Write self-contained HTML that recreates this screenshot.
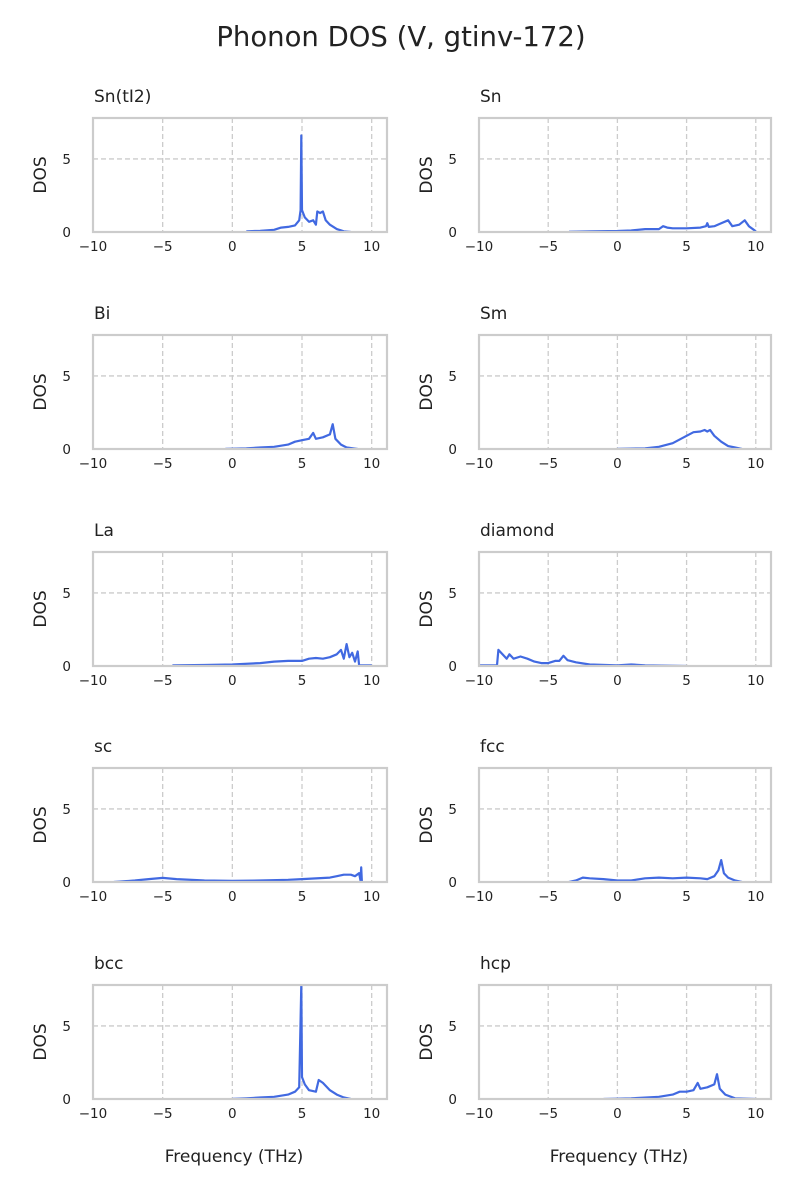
<!DOCTYPE html>
<html><head><meta charset="utf-8"><style>
body{margin:0;background:#fff;}
svg{display:block;font-family:"DejaVu Sans","Liberation Sans",sans-serif;}
</style></head><body>
<svg id="fig" width="800" height="1200">
<text x="401" y="46" text-anchor="middle" font-size="27.5" fill="#222">Phonon DOS (V, gtinv-172)</text>
</svg>
<script>
const panelNames = ["Sn(tI2)","Sn","Bi","Sm","La","diamond","sc","fcc","bcc","hcp"];
const fSnTI2 = [1,2,3,3.5,4,4.5,4.8,4.9,4.95,5.0,5.2,5.5,5.8,6.0,6.1,6.3,6.5,6.7,7,7.5,8,8.5];
const dSnTI2 = [0.05,0.08,0.15,0.3,0.35,0.45,0.8,1.5,6.6,1.5,1.0,0.7,0.8,0.5,1.4,1.3,1.4,0.8,0.5,0.2,0.05,0];
const fSn = [-3.5,-2,0,1,2,3,3.3,3.6,4,5,6,6.4,6.5,6.6,7,7.5,8,8.3,8.8,9.2,9.5,10];
const dSn = [0.02,0.05,0.07,0.1,0.2,0.2,0.4,0.3,0.25,0.25,0.3,0.4,0.6,0.35,0.4,0.6,0.8,0.4,0.5,0.8,0.4,0.05];
const fBi = [-0.5,1,2,3,4,4.5,5,5.5,5.8,6,6.5,7,7.2,7.4,7.8,8.2,9];
const dBi = [0.01,0.05,0.1,0.15,0.3,0.5,0.6,0.7,1.1,0.7,0.8,1.0,1.7,0.7,0.3,0.1,0];
const fSm = [0,2,3,4,5,5.5,6,6.3,6.5,6.7,7,7.5,8,8.5,9];
const dSm = [0.01,0.05,0.15,0.4,0.9,1.15,1.2,1.3,1.2,1.3,0.9,0.5,0.2,0.1,0];
const fLa = [-4.3,-2,0,2,3,4,5,5.5,6,6.5,7,7.5,7.8,8,8.2,8.4,8.6,8.8,9,9.1,10];
const dLa = [0.05,0.07,0.1,0.2,0.3,0.35,0.35,0.5,0.55,0.5,0.6,0.8,1.1,0.5,1.5,0.6,0.9,0.3,1.0,0.05,0.05];
const fDia = [-10,-8.7,-8.6,-8.3,-8.0,-7.8,-7.5,-7,-6.5,-6,-5.5,-5,-4.5,-4.2,-3.9,-3.6,-3,-2,0,1,2,5];
const dDia = [0.05,0.05,1.1,0.8,0.5,0.8,0.5,0.65,0.5,0.3,0.2,0.2,0.35,0.35,0.7,0.4,0.25,0.1,0.05,0.1,0.05,0];
const fSc = [-8.5,-7,-6,-5,-4,-2,0,2,4,5,7,7.5,8,8.5,8.8,9.1,9.2,9.25,9.3];
const dSc = [0,0.1,0.2,0.28,0.2,0.1,0.08,0.1,0.15,0.2,0.3,0.4,0.5,0.5,0.4,0.6,0.1,1.0,0];
const fFcc = [-3.5,-3,-2.5,-2,-1,0,1,2,3,4,5,6,6.5,7,7.3,7.5,7.7,8,8.5,9];
const dFcc = [0,0.1,0.3,0.25,0.2,0.1,0.1,0.25,0.3,0.25,0.3,0.25,0.2,0.4,0.8,1.5,0.6,0.3,0.1,0];
const fBcc = [0,1,2,3,4,4.5,4.8,4.95,5.0,5.2,5.5,6,6.2,6.5,7,7.5,8,8.5];
const dBcc = [0.01,0.05,0.1,0.15,0.3,0.5,0.8,7.8,1.5,1.0,0.6,0.5,1.3,1.1,0.6,0.3,0.1,0];
const fHcp = [-1,1,3,4,4.5,5,5.5,5.8,6,6.5,7,7.2,7.4,7.8,8.5,10];
const dHcp = [0,0.05,0.15,0.3,0.5,0.5,0.6,1.1,0.7,0.8,1.0,1.7,0.7,0.3,0.05,0];
const panelFreqs = [fSnTI2,fSn,fBi,fSm,fLa,fDia,fSc,fFcc,fBcc,fHcp];
const panelDos = [dSnTI2,dSn,dBi,dSm,dLa,dDia,dSc,dFcc,dBcc,dHcp];
const xTicks = [-10,-5,0,5,10];
const xTickLabels = ["\u221210","\u22125","0","5","10"];
const yTicks = [0,5];
const yTickLabels = ["0","5"];

const NS = "http://www.w3.org/2000/svg";
const svg = document.getElementById("fig");
const XMIN = -10, XMAX = 11.1, YMIN = 0, YMAX = 7.8;
const lefts = [93,479], widths = [294,292], tops = [118,335,552,768,985], H = 114;
function mk(tag, attrs, parent){const e=document.createElementNS(NS,tag);for(const k in attrs)e.setAttribute(k,attrs[k]);(parent||svg).appendChild(e);return e;}

panelNames.forEach((name,i)=>{
  const col=i%2,row=Math.floor(i/2);
  const L=lefts[col],W=widths[col],T=tops[row];
  const sx=v=>L+(v-XMIN)/(XMAX-XMIN)*W;
  const sy=v=>T+H-(v-YMIN)/(YMAX-YMIN)*H;
  const g=mk("g",{});
  
  
  const cp=mk("clipPath",{id:"cp"+i},g);
  mk("rect",{x:L,y:T,width:W,height:H},cp);
  xTicks.forEach((t,k)=>{
    const x=sx(t);
    if(x>L+1&&x<L+W-1){const gl=mk("line",{x1:x,x2:x,y1:T,y2:T+H,stroke:"#cccccc","stroke-width":1.3,"stroke-dasharray":"5,3"},g);
    
    }
    const tl=mk("text",{x:x,y:T+H+19,"text-anchor":"middle","font-size":13.5,fill:"#222"},g);
    tl.textContent=xTickLabels[k];
    
    
  });
  yTicks.forEach((t,k)=>{
    const y=sy(t);
    if(y>T+1&&y<T+H-1){const gl=mk("line",{x1:L,x2:L+W,y1:y,y2:y,stroke:"#cccccc","stroke-width":1.3,"stroke-dasharray":"5,3"},g);
    
    }
    const tl=mk("text",{x:L-22,y:y+5,"text-anchor":"end","font-size":13.5,fill:"#222"},g);
    tl.textContent=yTickLabels[k];
    
    
  });
  const fr=panelFreqs[i],ds=panelDos[i];
  const pts=fr.map((f,k)=>sx(f).toFixed(1)+","+sy(ds[k]).toFixed(1)).join(" ");
  const line=mk("polyline",{points:pts,fill:"none",stroke:"#4169e1","stroke-width":2.2,"stroke-linejoin":"round","clip-path":"url(#cp"+i+")"},g);
  
  
  const fr2=mk("rect",{x:L,y:T,width:W,height:H,fill:"none",stroke:"#cccccc","stroke-width":2.2},g);
  
  
  const tt=mk("text",{x:L+1,y:T-16,"font-size":17,fill:"#222"},g);
  tt.textContent=name;
  
  
  const yl=mk("text",{x:0,y:0,"text-anchor":"middle","font-size":17,fill:"#222",transform:"translate("+(L-47)+","+(T+H/2)+") rotate(-90)"},g);
  yl.textContent="DOS";
  
  
  if(row===4){
    const xl=mk("text",{x:L+W/2-6,y:T+H+63,"text-anchor":"middle","font-size":17,fill:"#222"},g);
    xl.textContent="Frequency (THz)";
    
    
  }
});
</script>
</body></html>
